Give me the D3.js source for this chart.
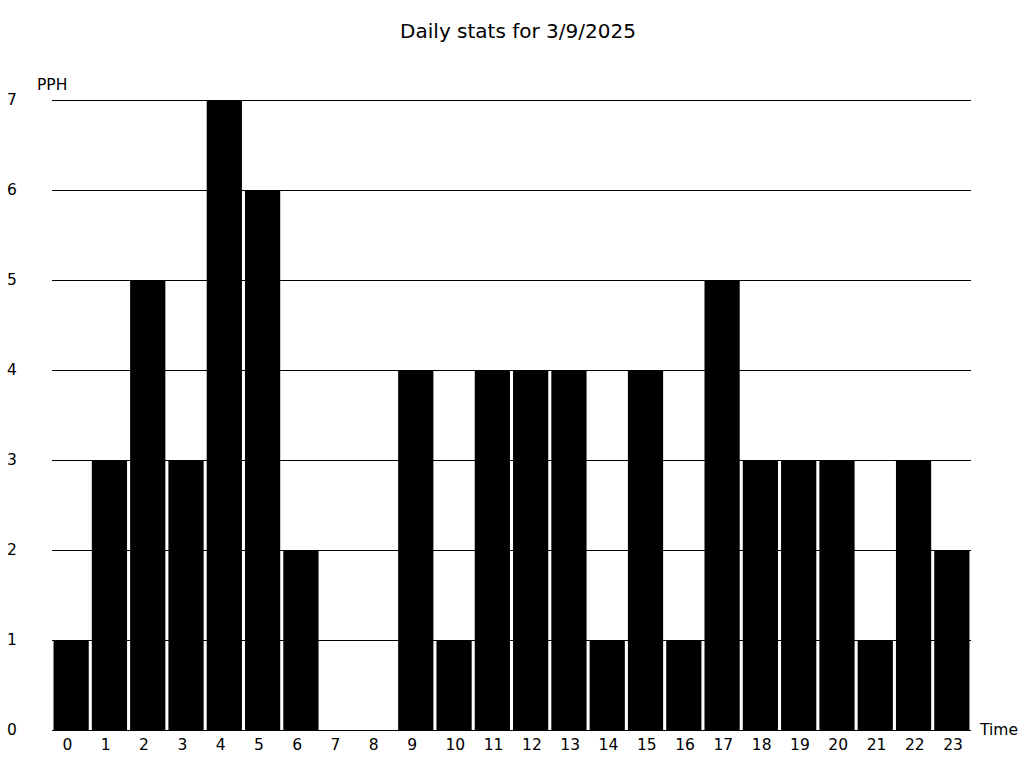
<!DOCTYPE html>
<html>
<head>
<meta charset="utf-8">
<script src="https://cdn.jsdelivr.net/npm/d3@7"></script>
<style>
  body { margin: 0; background: #fff; }
  text { font-family: "DejaVu Sans", sans-serif; fill: #000; }
</style>
</head>
<body>
<div id="chart"></div>
<script>
// hours of the day and pieces per hour
const hours = d3.range(0, 24).map(String);
const pph = [1, 3, 5, 3, 7, 6, 2, 0, 0, 4, 1, 4, 4, 4, 1, 4, 1, 5, 3, 3, 3, 1, 3, 2];
const yTicks = [0, 1, 2, 3, 4, 5, 6, 7];

const W = 1024, H = 768;
const margin = {top: 100, right: 53, bottom: 38, left: 52};
const width = W - margin.left - margin.right,
      height = H - margin.top - margin.bottom;

const svg = d3.select("#chart").append("svg")
    .attr("width", W)
    .attr("height", H);

svg.append("text")
    .attr("x", 518)
    .attr("y", 38)
    .attr("text-anchor", "middle")
    .style("font-size", "20px")
    .text("Daily stats for 3/9/2025");

const g = svg.append("g")
    .attr("transform", "translate(" + margin.left + "," + margin.top + ")");

const x = d3.scaleBand().domain(hours).range([0, width]).paddingInner(0.08).paddingOuter(0.04);
const y = d3.scaleLinear().domain([0, 7]).range([height, 0]);

// bars
g.selectAll("rect")
    .data(pph)
    .enter()
    .append("rect")
    .attr("x", (d, i) => x(hours[i]))
    .attr("y", d => y(d))
    .attr("width", x.bandwidth())
    .attr("height", d => height - y(d))
    .style("fill", "#000");

// grid lines
g.selectAll(".grid")
    .data(yTicks)
    .enter()
    .append("line")
    .attr("x1", 0)
    .attr("x2", width)
    .attr("y1", d => Math.round(y(d)) + 0.5)
    .attr("y2", d => Math.round(y(d)) + 0.5)
    .style("stroke", "#000")
    .style("stroke-width", 1);

// y labels
svg.selectAll(".ylab")
    .data(yTicks)
    .enter()
    .append("text")
    .attr("x", 12)
    .attr("y", d => margin.top + y(d) + 5)
    .attr("text-anchor", "middle")
    .style("font-size", "15.5px")
    .text(d => d);

// x labels (left-anchored, like the original)
svg.selectAll(".xlab")
    .data(hours)
    .enter()
    .append("text")
    .attr("x", d => margin.left + x(d) + 9)
    .attr("y", 750)
    .style("font-size", "15.5px")
    .text(d => d);

svg.append("text")
    .attr("x", 37)
    .attr("y", 90)
    .style("font-size", "15.5px")
    .text("PPH");

svg.append("text")
    .attr("x", 980)
    .attr("y", 735)
    .style("font-size", "15.5px")
    .text("Time");
</script>
</body>
</html>
